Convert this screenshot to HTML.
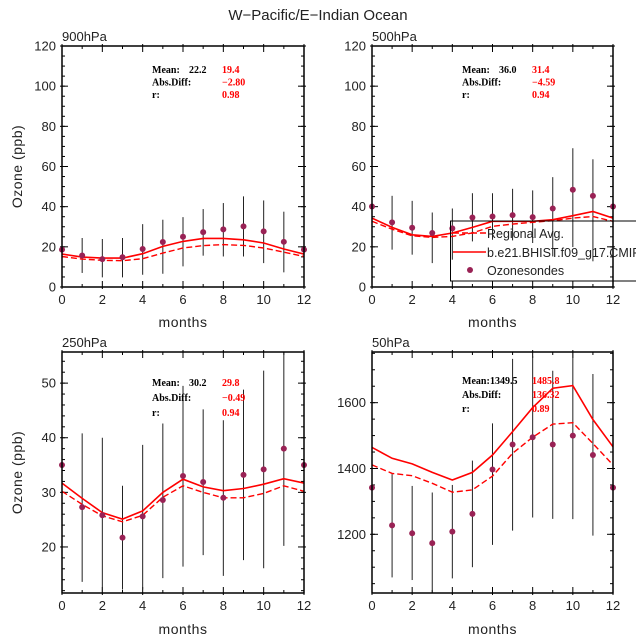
<!DOCTYPE html>
<html><head><meta charset="utf-8"><style>
html,body{margin:0;padding:0;background:#fff}
svg{display:block;font-family:"Liberation Sans",sans-serif}
.st{font-family:"Liberation Serif",serif;font-weight:bold;font-size:10px}
</style></head><body>
<svg id="c" width="636" height="642" viewBox="0 0 636 642">
<text x="318" y="20" text-anchor="middle" font-size="15" fill="#222">W−Pacific/E−Indian Ocean</text>
</svg>
<script>
const months=[0,1,2,3,4,5,6,7,8,9,10,11,12];
const obs900=[18.6,15.7,13.9,14.8,18.9,22.4,25.0,27.3,28.7,30.2,27.7,22.5,18.6];
const hi900=[null,24.4,23.9,24.4,31.3,33.5,34.8,38.8,41.8,45.1,43.1,37.5,null];
const lo900=[null,7.0,4.8,4.8,6.1,6.6,10.3,15.6,15.2,15.2,11.9,7.3,null];
const mod900=[16.4,14.9,14.4,14.4,16.6,20.2,22.7,24.2,24.2,23.5,21.9,18.9,16.4];
const reg900=[15.2,13.9,13.3,13.1,14.1,16.9,19.4,20.6,21.1,20.7,19.4,17.4,15.2];
const obs500=[40.1,32.2,29.5,26.9,29.2,34.6,35.1,35.8,34.8,39.1,48.4,45.4,40.1];
const hi500=[null,45.4,42.9,37.1,39.1,46.7,46.7,48.9,48.1,54.7,69.1,63.6,null];
const lo500=[null,18.6,16.1,11.9,13.6,22.7,23.5,23.2,21.9,15.2,19.9,12.8,null];
const mod500=[34.3,29.7,26.0,25.2,26.9,29.7,32.7,32.7,32.7,33.5,35.5,37.6,34.3];
const reg500=[32.7,28.8,25.5,24.7,25.2,26.9,30.2,31.3,32.2,33.0,34.3,35.1,32.7];
const obs250=[35.0,27.3,25.8,21.7,25.6,28.6,33.0,31.9,29.0,33.2,34.2,38.0,35.0];
const hi250=[null,40.8,40.0,31.2,38.7,42.6,49.5,45.2,43.2,48.8,52.3,59.0,null];
const lo250=[null,13.6,11.0,12.2,12.2,14.3,16.4,18.5,14.7,17.6,16.1,20.2,null];
const mod250=[31.7,28.9,26.3,25.1,26.6,30.0,32.4,31.0,30.3,30.7,31.5,32.5,31.7];
const reg250=[30.2,27.8,25.7,24.6,25.8,29.1,31.2,30.0,29.0,29.0,29.8,31.2,30.2];
const obs50=[1342,1227,1203,1173,1208,1262,1397,1473,1495,1473,1500,1441,1342];
const hi50=[null,1383,1347,1327,1350,1424,1537,1733,1742,1697,1770,1687,null];
const lo50=[null,1069,1061,1010,1066,1100,1168,1211,1251,1247,1246,1196,null];
const mod50=[1464,1431,1414,1388,1365,1388,1441,1512,1585,1644,1652,1549,1466];
const reg50=[1411,1385,1378,1355,1328,1335,1377,1446,1495,1535,1539,1476,1411];
const xTicks=[0,2,4,6,8,10,12];

const NS="http://www.w3.org/2000/svg";
const svg=document.getElementById('c');
function mk(tag,attrs,parent){const e=document.createElementNS(NS,tag);for(const k in attrs)e.setAttribute(k,attrs[k]);(parent||svg).appendChild(e);return e;}

const panels=[
 {name:'900hpa',title:'900hPa',x0:62,x1:304,y0:46,y1:287,min:0,max:120,major:[0,20,40,60,80,100,120],minorStep:5,
  obs:obs900,hi:hi900,lo:lo900,mod:mod900,reg:reg900,ylab:true,xlabY:327,
  stats:{x:152,y:73,dy:12.5,mean:'22.2',mm:'19.4',diff:'−2.80',r:'0.98',vx:189}},
 {name:'500hpa',title:'500hPa',x0:372,x1:613,y0:46,y1:287,min:0,max:120,major:[0,20,40,60,80,100,120],minorStep:5,
  obs:obs500,hi:hi500,lo:lo500,mod:mod500,reg:reg500,ylab:false,xlabY:327,legend:true,
  stats:{x:462,y:73,dy:12.5,mean:'36.0',mm:'31.4',diff:'−4.59',r:'0.94',vx:499}},
 {name:'250hpa',title:'250hPa',x0:62,x1:304,y0:352,y1:593,min:11.57,max:55.7,major:[20,30,40,50],minorStep:2,
  obs:obs250,hi:hi250,lo:lo250,mod:mod250,reg:reg250,ylab:true,xlabY:634,
  stats:{x:152,y:386,dy:15,mean:'30.2',mm:'29.8',diff:'−0.49',r:'0.94',vx:189}},
 {name:'50hpa',title:'50hPa',x0:372,x1:613,y0:352,y1:593,min:1021.6,max:1754,major:[1200,1400,1600],minorStep:50,
  obs:obs50,hi:hi50,lo:lo50,mod:mod50,reg:reg50,ylab:false,xlabY:634,
  stats:{x:462,y:384,dy:14,mean:'1349.5',mm:'1485.8',diff:'136.32',r:'0.89',vx:490}}
];

panels.forEach(p=>{
  const g=mk('g',{});
  
  
  const X=m=>p.x0+(p.x1-p.x0)*m/12;
  const Y=v=>p.y1-(p.y1-p.y0)*(v-p.min)/(p.max-p.min);
  const clipId='clip'+p.name;
  const cp=mk('clipPath',{id:clipId},g);
  mk('rect',{x:p.x0,y:p.y0,width:p.x1-p.x0,height:p.y1-p.y0},cp);
  const t=mk('text',{x:p.x0,y:p.y0-5,'font-size':13,fill:'#222'},g);t.textContent=p.title;
  
  
  const tk=mk('g',{stroke:'#000','stroke-width':1},g);
  
  
  for(let m=0;m<=12;m++){const x=X(m);const L=(m%2==0)?6:3;
    mk('line',{x1:x,x2:x,y1:p.y1+ (m%2==0?2:0),y2:p.y1-L},tk);
    mk('line',{x1:x,x2:x,y1:p.y0-(m%2==0?2:0),y2:p.y0+L},tk);}
  const s0=Math.ceil(p.min/p.minorStep)*p.minorStep;
  for(let v=s0;v<=p.max+1e-9;v+=p.minorStep){const y=Y(v);
    mk('line',{x1:p.x0,x2:p.x0+3,y1:y,y2:y},tk);mk('line',{x1:p.x1,x2:p.x1-3,y1:y,y2:y},tk);}
  p.major.forEach(v=>{const y=Y(v);
    mk('line',{x1:p.x0-2,x2:p.x0+6,y1:y,y2:y},tk);mk('line',{x1:p.x1+2,x2:p.x1-6,y1:y,y2:y},tk);
    const l=mk('text',{x:p.x0-6,y:y+4.5,'font-size':13,'text-anchor':'end',fill:'#222'},g);l.textContent=v;
    
    });
  xTicks.forEach(m=>{const l=mk('text',{x:X(m),y:p.y1+17,'font-size':13,'text-anchor':'middle',fill:'#222'},g);l.textContent=m;
    
    });
  const xl=mk('text',{x:(p.x0+p.x1)/2,y:p.xlabY,'font-size':14,'text-anchor':'middle',fill:'#222','letter-spacing':'0.5'},g);xl.textContent='months';
  
  
  if(p.ylab){const yl=mk('text',{x:0,y:0,'font-size':14,'text-anchor':'middle',fill:'#222',transform:`translate(22,${(p.y0+p.y1)/2}) rotate(-90)`,'letter-spacing':'0.5'},g);yl.textContent='Ozone (ppb)';
    
    }
  const dg=mk('g',{'clip-path':`url(#${clipId})`},g);
  months.forEach((m,i)=>{if(p.hi[i]==null)return;
    const b=mk('line',{x1:X(m),x2:X(m),y1:Y(p.hi[i]),y2:Y(p.lo[i]),stroke:'#222','stroke-width':1},dg);
    
    });
  const pts=a=>months.map((m,i)=>X(m).toFixed(1)+','+Y(a[i]).toFixed(1)).join(' ');
  const rl=mk('polyline',{points:pts(p.reg),fill:'none',stroke:'#f00','stroke-width':1.4,'stroke-dasharray':'6,3'},dg);
  
  
  const ml=mk('polyline',{points:pts(p.mod),fill:'none',stroke:'#f00','stroke-width':1.6},dg);
  
  
  months.forEach((m,i)=>{const c=mk('circle',{cx:X(m),cy:Y(p.obs[i]),r:3,fill:'#992255'},g);
    
    });
  mk('rect',{x:p.x0,y:p.y0,width:p.x1-p.x0,height:p.y1-p.y0,fill:'none',stroke:'#000','stroke-width':1.5},g);
  const s=p.stats;const sg=mk('g',{class:'st'},g);
  
  
  const tx=(x,y,txt,col)=>{const e=mk('text',{x:x,y:y,fill:col,class:'st'},sg);e.textContent=txt;return e;};
  tx(s.x,s.y,'Mean:','#000');tx(s.vx,s.y,s.mean,'#000');tx(s.x+70,s.y,s.mm,'#f00');
  tx(s.x,s.y+s.dy,'Abs.Diff:','#000');tx(s.x+70,s.y+s.dy,s.diff,'#f00');
  tx(s.x,s.y+2*s.dy,'r:','#000');tx(s.x+70,s.y+2*s.dy,s.r,'#f00');
  if(p.legend){
    const lg=mk('g',{},svg);
    
    
    mk('rect',{x:450.5,y:221,width:200,height:60,fill:'none',stroke:'#000','stroke-width':1},lg);
    mk('line',{x1:453,x2:486,y1:233,y2:233,stroke:'#f00','stroke-width':1.4,'stroke-dasharray':'6,3'},lg);
    mk('line',{x1:453,x2:486,y1:252,y2:252,stroke:'#f00','stroke-width':1.6},lg);
    mk('circle',{cx:470,cy:270,r:3,fill:'#992255'},lg);
    [['Regional Avg.',238],['b.e21.BHIST.f09_g17.CMIP6-AMIP.001',257],['Ozonesondes',275]].forEach(a=>{
      const e=mk('text',{x:487,y:a[1],'font-size':12.5,fill:'#222'},lg);e.textContent=a[0];
      
      });
  }
});
</script>
</body></html>
